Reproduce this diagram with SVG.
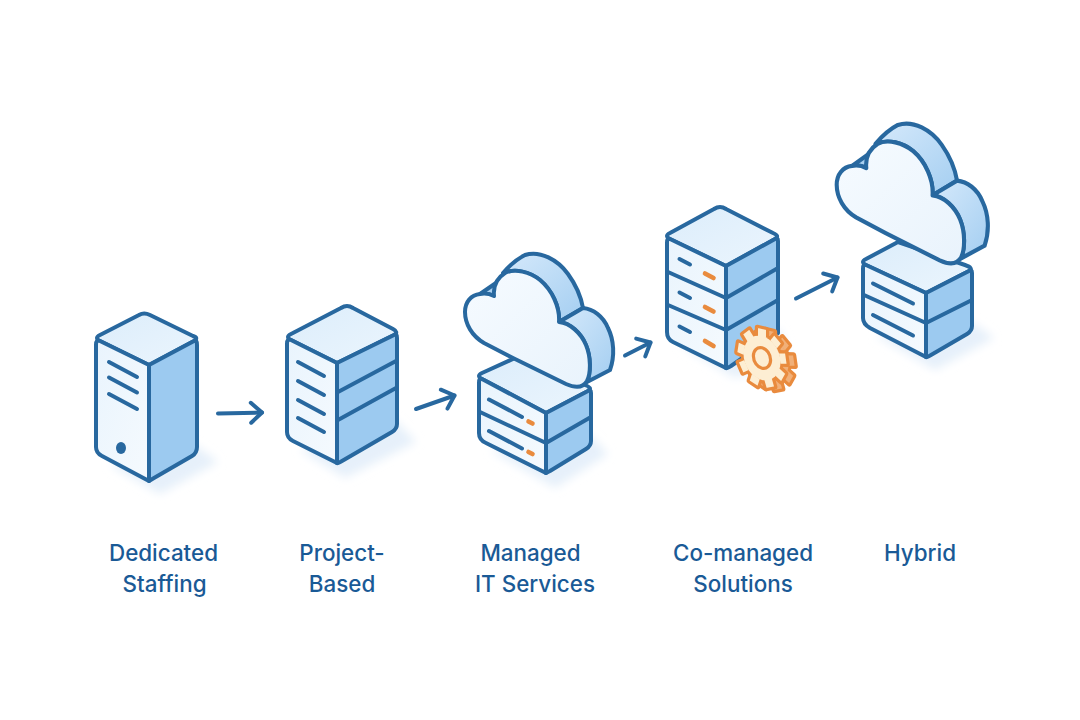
<svg xmlns="http://www.w3.org/2000/svg" width="1080" height="720" viewBox="0 0 1080 720">
<style>
.o{stroke:#28689f;stroke-width:4;stroke-linejoin:round;stroke-linecap:round}
.l{fill:none;stroke:#28689f;stroke-width:4;stroke-linecap:round;stroke-linejoin:round}
.m{fill:none;stroke:#e98b3e;stroke-width:4.6;stroke-linecap:round}
.front{fill:url(#gf)}.side{fill:#9ccaf0}.top{fill:url(#gt)}
.sh{fill:#e6f0fa;filter:url(#blur)}
.lab{font-family:"Inter","Noto Sans",sans-serif;font-size:22.4px;font-weight:500;fill:#1a5a96;text-anchor:middle}
.g{stroke:#e98b3e;stroke-width:3.2;stroke-linejoin:round}
</style>
<defs>
<linearGradient id="gf" x1="0" y1="0" x2="1" y2="1"><stop offset="0" stop-color="#e9f4fd"/><stop offset="1" stop-color="#f5fafe"/></linearGradient>
<linearGradient id="gt" x1="0" y1="0" x2="1" y2="1"><stop offset="0" stop-color="#dcedfb"/><stop offset="1" stop-color="#ebf5fd"/></linearGradient>
<linearGradient id="gb" x1="0" y1="0" x2="1" y2="1"><stop offset="0" stop-color="#d5e9fb"/><stop offset="1" stop-color="#a4cef1"/></linearGradient>
<linearGradient id="gc" x1="0" y1="0" x2="1" y2="1"><stop offset="0" stop-color="#f6fbff"/><stop offset="1" stop-color="#e9f3fc"/></linearGradient>
<filter id="blur" x="-30%" y="-30%" width="160%" height="160%"><feGaussianBlur stdDeviation="5"/></filter>
<marker id="head" viewBox="-14 -13 17 26" markerWidth="17" markerHeight="26" refX="0" refY="0" orient="auto" markerUnits="userSpaceOnUse"><path d="M-11,-10 L0,0 L-11,10" fill="none" stroke="#28689f" stroke-width="4" stroke-linecap="round" stroke-linejoin="round"/></marker>
<g id="cloud">
<path class="o" fill="url(#gb)" d="M503,273 C510,265 517,259 525,255 C540,250 558,260 568,274 C576,285 581,297 583,308 L559,322 C560,307 552,290 540,280 C530,272 515,268 503,273Z"/>
<path class="o" fill="url(#gb)" d="M559,322 L583,308 C593,309 603,316 608,328 C614,340 615,356 610,370 L587,382 C591,373 591,357 586,345 C581,333 570,323 559,322Z"/>
<path class="o" fill="#a9d0f0" d="M480,294 L496,283 L494,296 C490,294 485,293 480,294Z"/>
<path class="o" fill="url(#gc)" d="M513,358 L484,343 C472,336 465,324 465,312 C465,302 471,295 480,294 C485,293 490,294 494,296 C493,286 497,278 505,273 C515,268 530,272 540,280 C552,290 560,307 559,322 C570,323 581,333 586,345 C591,357 591,373 587,381 C583,388 575,388 566,384Z"/>
</g>
<g id="gearshape">
<circle class="g" r="23" vector-effect="non-scaling-stroke"/>
<rect class="g" x="-6.500" y="-30" width="13" height="11" rx="1" vector-effect="non-scaling-stroke" transform="rotate(0)"/>
<rect class="g" x="-6.500" y="-30" width="13" height="11" rx="1" vector-effect="non-scaling-stroke" transform="rotate(40)"/>
<rect class="g" x="-6.500" y="-30" width="13" height="11" rx="1" vector-effect="non-scaling-stroke" transform="rotate(80)"/>
<rect class="g" x="-6.500" y="-30" width="13" height="11" rx="1" vector-effect="non-scaling-stroke" transform="rotate(120)"/>
<rect class="g" x="-6.500" y="-30" width="13" height="11" rx="1" vector-effect="non-scaling-stroke" transform="rotate(160)"/>
<rect class="g" x="-6.500" y="-30" width="13" height="11" rx="1" vector-effect="non-scaling-stroke" transform="rotate(200)"/>
<rect class="g" x="-6.500" y="-30" width="13" height="11" rx="1" vector-effect="non-scaling-stroke" transform="rotate(240)"/>
<rect class="g" x="-6.500" y="-30" width="13" height="11" rx="1" vector-effect="non-scaling-stroke" transform="rotate(280)"/>
<rect class="g" x="-6.500" y="-30" width="13" height="11" rx="1" vector-effect="non-scaling-stroke" transform="rotate(320)"/>
<circle r="21.500" stroke="none"/>
</g>
</defs>
<rect width="1080" height="720" fill="#ffffff"/>
<g id="shadows">
<path class="sh" d="M110,465 L160,494 L218,462 L195,445Z"/>
<path class="sh" d="M300,450 L345,478 L416,442 L395,420Z"/>
<path class="sh" d="M490,450 L555,488 L608,454 L590,435Z"/>
<path class="sh" d="M680,345 L735,378 L790,360 L780,330Z"/>
<path class="sh" d="M875,335 L935,370 L994,338 L972,322Z"/>
</g>
<g id="connectors">
<path class="l" marker-end="url(#head)" d="M218,413.500 L262,412.500"/>
<path class="l" marker-end="url(#head)" d="M416,409 L454.500,395.500"/>
<path class="l" marker-end="url(#head)" d="M625,355.500 L650.500,342.500"/>
<path class="l" marker-end="url(#head)" d="M796,298.500 L837.500,277.500"/>
</g>
<g id="node-1">
<path class="o top" d="M100,341 Q94,338 100,335 L139,315 Q144,312 150,315 L193,336 Q199,338 194,341 L149,365Z"/>
<path class="o front" d="M96,345 Q96,339 100,341 L149,365 V481 L102,456 Q96,453 96,447Z"/>
<path class="o side" d="M149,365 L194,341 Q197,339 197,345 V447 Q197,453 192,456 L154,478 Q149,481 149,481Z"/>
<path class="l" d="M109,362 L137,377 M109,377.500 L137,392.500 M109,394 L137,409"/>
<ellipse cx="121" cy="448" rx="5" ry="6" fill="#28689f"/>
</g>
<g id="node-2">
<path class="o top" d="M291,340 Q285,337 291,334 L341,308 Q347,304 353,308 L393,329 Q399,332 394,335 L337,363Z"/>
<path class="o front" d="M287,344 Q287,338 291,340 L337,363 V463 L293,441 Q287,438 287,432Z"/>
<path class="o side" d="M337,363 L394,335 Q397,333 397,338 V424 Q397,429 392,432 L342,461 Q337,464 337,463Z"/>
<path class="l" d="M338,392 L396,361 M338,420 L396,388"/>
<path class="l" d="M298,362 L324,376 M298,381 L324,395 M298,400 L324,414 M298,418 L324,432"/>
</g>
<g id="node-3">
<path class="o top" d="M482,379 Q476,376 482,373 L515,358 L585,385 Q593,388 588,391 L546,413Z"/>
<path class="o front" d="M479,383 Q479,377 482,379 L546,413 V473 L486,443 Q479,440 479,433Z"/>
<path class="o side" d="M546,413 L588,391 Q591,389 591,393 V441 Q591,446 586,449 L550,471 Q546,473 546,473Z"/>
<path class="l" d="M480,412 L546,443 L591,417"/>
<path class="l" d="M489,399.500 L522,417 M489,431 L522,448.500"/>
<path class="m" d="M528.500,421.500 L532.500,423.500 M528.500,452 L532.500,454"/>
<use href="#cloud"/>
</g>
<g id="node-4">
<path class="o top" d="M670,239 Q664,236 670,233 L714,209 Q720,205 726,209 L773,233 Q780,236 775,239 L726,266Z"/>
<path class="o front" d="M667,243 Q667,237 670,239 L726,266 V368 L673,342 Q667,339 667,332Z"/>
<path class="o side" d="M726,266 L775,239 Q778,237 778,241 V333 L731,366 Q726,369 726,368Z"/>
<path class="l" d="M668,272 L726,298 L778,268 M668,305 L726,330 L778,300"/>
<path class="l" d="M679.500,259 L690,264.500 M679.500,292.500 L690,298 M679.500,326.500 L690,332"/>
<path class="m" d="M705,273.500 L713.500,278 M705,307 L713.500,311.500 M705,341 L713.500,346"/>
<g id="gear">
<use href="#gearshape" fill="#f1b079" transform="translate(770,360) matrix(0.86,0.2,0,1.02,0,0)"/>
<use href="#gearshape" fill="#fdeed3" transform="translate(762,358) matrix(0.86,0.2,0,1.02,0,0)"/>
<circle class="g" r="10" fill="#fdeed3" vector-effect="non-scaling-stroke" transform="translate(762,358) matrix(0.86,0.2,0,1.02,0,0)"/>
</g>
</g>
<g id="node-5">
<path class="o top" d="M866,265 Q860,262 866,259 L898,242 L965,265 Q974,268 969,271 L926,293Z"/>
<path class="o front" d="M863,269 Q863,263 866,265 L926,293 V357 L870,328 Q863,324 863,318Z"/>
<path class="o side" d="M926,293 L969,271 Q972,269 972,273 V326 Q972,331 967,334 L931,355 Q926,358 926,357Z"/>
<path class="l" d="M864,295 L926,323 L972,300"/>
<path class="l" d="M873,283.500 L913,303.500 M873,315 L913,335.500"/>
<use href="#cloud" transform="matrix(1.02,0,0,1.05,362.400,-142.800)"/>
</g>
<g id="labels">
<text class="lab" x="163.500" y="561">Dedicated</text>
<text class="lab" x="164.500" y="592">Staffing</text>
<text class="lab" x="342" y="561">Project-</text>
<text class="lab" x="342" y="592">Based</text>
<text class="lab" x="530.500" y="561">Managed</text>
<text class="lab" x="535" y="592">IT Services</text>
<text class="lab" x="743" y="561">Co-managed</text>
<text class="lab" x="743" y="592">Solutions</text>
<text class="lab" x="920" y="561">Hybrid</text>
</g>
</svg>
